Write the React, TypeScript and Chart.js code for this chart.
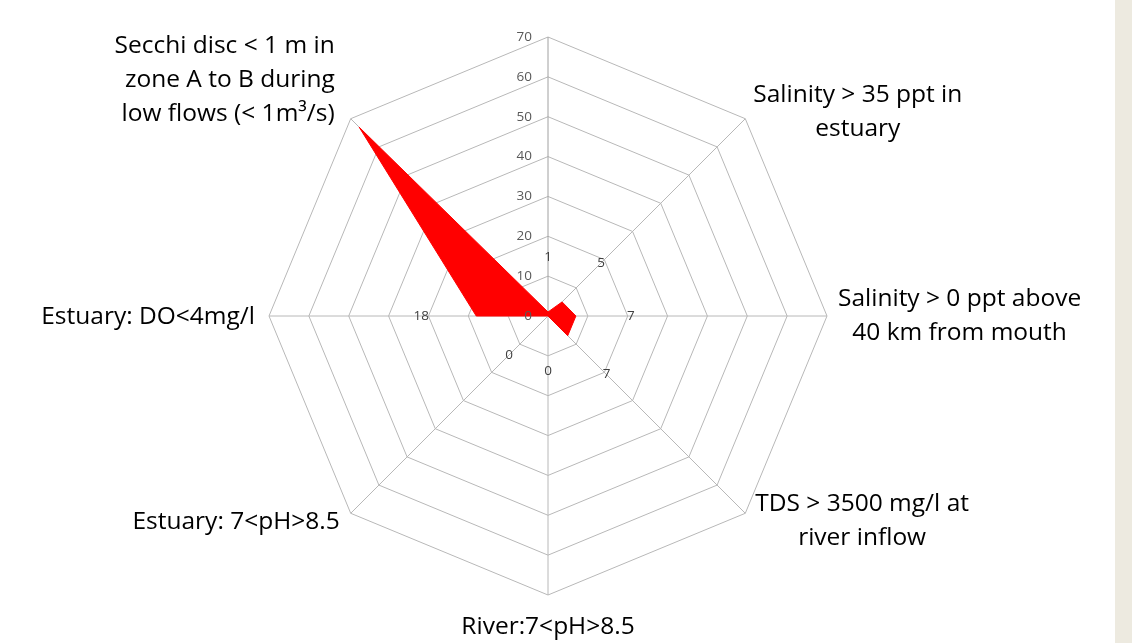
import React, { useEffect, useRef } from "react";
import { Chart, registerables } from "chart.js";

Chart.register(...registerables);

// Axis categories (multi-line labels), clockwise from the top axis
const categories: string[][] = [
  [""],
  ["Salinity > 35 ppt in", "estuary"],
  ["Salinity > 0 ppt above", "40 km from mouth"],
  ["TDS > 3500 mg/l at", "river inflow"],
  ["River:7<pH>8.5"],
  ["Estuary: 7<pH>8.5"],
  ["Estuary: DO<4mg/l"],
  ["Secchi disc < 1 m in", "zone A to B during", "low flows (< 1m³/s)"],
];

// Series values
const values: number[] = [1, 5, 7, 7, 0, 0, 18, 67];
const showValueLabel: boolean[] = [true, true, true, true, true, true, true, false];

// Radial tick labels
const tickValues: number[] = [0, 10, 20, 30, 40, 50, 60, 70];

const LABEL_FONT = '24.5px "Open Sans"';
const SMALL_FONT = '13.5px "Open Sans"';
const VALUE_LABEL_OFFSET = 13.8; // in value units, outward from the point

type Placement = { h: "left" | "right" | "center"; gap: number; dy: number; lineAlign: "center" | "right" } | null;
const labelPlacement: Placement[] = [
  null,
  { h: "left", gap: 8, dy: -7, lineAlign: "center" },
  { h: "left", gap: 11, dy: 0, lineAlign: "center" },
  { h: "left", gap: 10, dy: 8, lineAlign: "center" },
  { h: "center", gap: 0, dy: 32, lineAlign: "center" },
  { h: "right", gap: 11, dy: 9, lineAlign: "right" },
  { h: "right", gap: 14, dy: 1, lineAlign: "right" },
  { h: "right", gap: 16, dy: -39, lineAlign: "right" },
];

const labelsPlugin = {
  id: "customLabels",
  afterDraw(chart: any) {
    const scale = chart.scales.r;
    const ctx = chart.ctx as CanvasRenderingContext2D;
    const cx = scale.xCenter;
    const cy = scale.yCenter;
    ctx.save();
    // tick labels, left of the top axis
    ctx.font = SMALL_FONT;
    ctx.fillStyle = "#595959";
    ctx.textAlign = "right";
    ctx.textBaseline = "middle";
    tickValues.forEach((v) => {
      const d = scale.getDistanceFromCenterForValue(v);
      ctx.fillText(String(v), cx - 16, cy - d);
    });
    // data labels
    ctx.fillStyle = "#404040";
    ctx.textAlign = "center";
    values.forEach((v, i) => {
      if (!showValueLabel[i]) return;
      const p = scale.getPointPositionForValue(i, v + VALUE_LABEL_OFFSET);
      ctx.fillText(String(v), p.x, p.y);
    });
    // category labels
    ctx.font = LABEL_FONT;
    ctx.fillStyle = "#000000";
    const lh = 34;
    categories.forEach((lines, i) => {
      const pl = labelPlacement[i];
      if (!pl) return;
      const p = scale.getPointPositionForValue(i, scale.max);
      const bw = Math.max(...lines.map((l) => ctx.measureText(l).width));
      let left: number;
      if (pl.h === "left") left = p.x + pl.gap;
      else if (pl.h === "right") left = p.x - pl.gap - bw;
      else left = p.x - bw / 2;
      const top = p.y + pl.dy - (lines.length * lh) / 2;
      lines.forEach((l, k) => {
        const y = top + lh * (k + 0.5);
        if (pl.lineAlign === "right") {
          ctx.textAlign = "right";
          ctx.fillText(l, left + bw, y);
        } else {
          ctx.textAlign = "center";
          ctx.fillText(l, left + bw / 2, y);
        }
      });
    });
    ctx.restore();
  },
};

export default function App() {
  const canvasRef = useRef<HTMLCanvasElement | null>(null);

  useEffect(() => {
    if (!canvasRef.current) return;
    const chart = new Chart(canvasRef.current, {
      type: "radar",
      data: {
        labels: categories.map((c) => c.join(" ")),
        datasets: [
          {
            data: values,
            backgroundColor: "#FF0000",
            borderColor: "#FF0000",
            borderWidth: 1,
            pointRadius: 0,
            fill: true,
          },
        ],
      },
      options: {
        responsive: false,
        animation: false,
        layout: { padding: { left: 269, right: 305, top: 37, bottom: 48 } },
        plugins: { legend: { display: false }, tooltip: { enabled: false } },
        scales: {
          r: {
            min: 0,
            max: 70,
            ticks: { display: false, stepSize: 10 },
            pointLabels: { display: false },
            grid: { color: "#B8B8B8", lineWidth: 1, circular: false },
            angleLines: {
              color: (c: any) => (c.index === 0 ? "#A0A0A0" : "#B8B8B8"),
              lineWidth: 1,
            },
          },
        },
      },
      plugins: [labelsPlugin],
    } as any);
    return () => chart.destroy();
  }, []);

  return (
    <div style={{ position: "absolute", left: 0, top: 0, width: 1132, height: 643, background: "#ffffff", overflow: "hidden" }}>
      <canvas ref={canvasRef} width={1132} height={643} style={{ display: "block" }} />
      <div style={{ position: "absolute", left: 1115, top: 0, width: 17, height: 643, background: "#EDEAE0" }} />
    </div>
  );
}
